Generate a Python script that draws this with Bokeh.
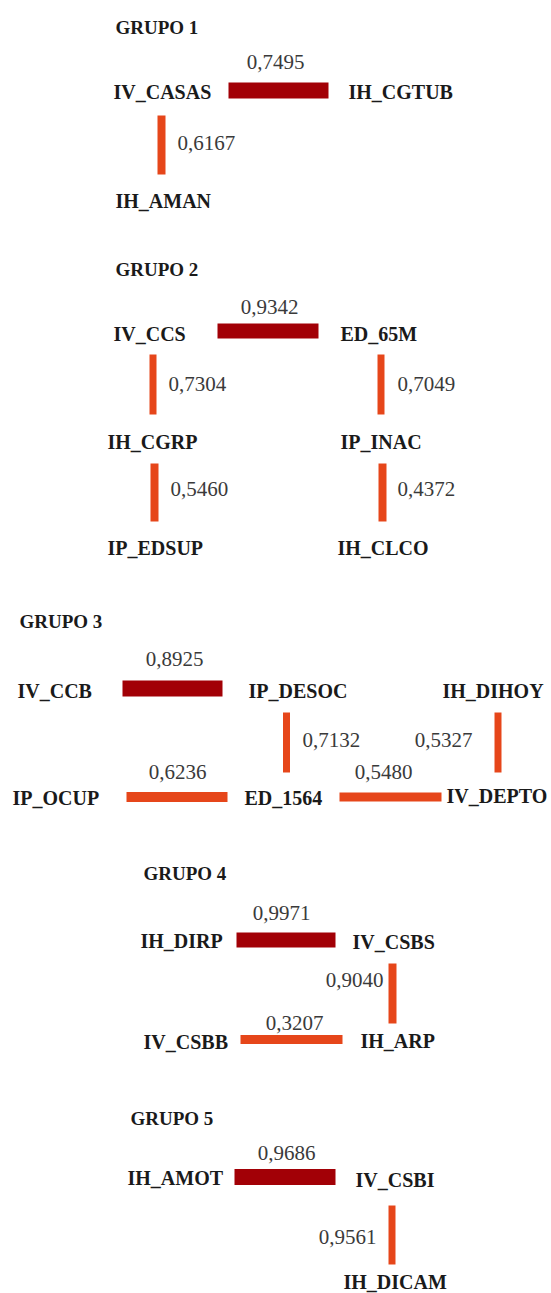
from bokeh.plotting import figure
from bokeh.models import Range1d, ColumnDataSource
from bokeh.core.properties import value
from bokeh.embed import file_html
from bokeh.resources import INLINE

# ---------------- data ----------------
groups = ["GRUPO 1", "GRUPO 2", "GRUPO 3", "GRUPO 4", "GRUPO 5"]

edge_group = [1, 1,
              2, 2, 2, 2, 2,
              3, 3, 3, 3, 3,
              4, 4, 4,
              5, 5]
edge_source = ["IV_CASAS", "IV_CASAS",
               "IV_CCS", "IV_CCS", "ED_65M", "IH_CGRP", "IP_INAC",
               "IV_CCB", "IP_DESOC", "IH_DIHOY", "IP_OCUP", "ED_1564",
               "IH_DIRP", "IV_CSBS", "IV_CSBB",
               "IH_AMOT", "IV_CSBI"]
edge_target = ["IH_CGTUB", "IH_AMAN",
               "ED_65M", "IH_CGRP", "IP_INAC", "IP_EDSUP", "IH_CLCO",
               "IP_DESOC", "ED_1564", "IV_DEPTO", "ED_1564", "IV_DEPTO",
               "IV_CSBS", "IH_ARP", "IH_ARP",
               "IV_CSBI", "IH_DICAM"]
edge_value = [0.7495, 0.6167,
              0.9342, 0.7304, 0.7049, 0.5460, 0.4372,
              0.8925, 0.7132, 0.5327, 0.6236, 0.5480,
              0.9971, 0.9040, 0.3207,
              0.9686, 0.9561]

# ---------------- layout (pixel positions of the diagram) ----------------
title_pos = {
    "GRUPO 1": (115, 27), "GRUPO 2": (115, 269), "GRUPO 3": (19, 621),
    "GRUPO 4": (143, 873), "GRUPO 5": (130, 1118),
}
node_pos = {
    "IV_CASAS": (113, 91), "IH_CGTUB": (348, 91), "IH_AMAN": (115, 200),
    "IV_CCS": (113, 333), "ED_65M": (340, 333), "IH_CGRP": (107, 441),
    "IP_INAC": (340, 441), "IP_EDSUP": (107, 547), "IH_CLCO": (337, 547),
    "IV_CCB": (17, 690), "IP_DESOC": (248, 690), "IH_DIHOY": (442, 690),
    "IP_OCUP": (12, 797), "ED_1564": (244, 797), "IV_DEPTO": (446, 795),
    "IH_DIRP": (140, 940), "IV_CSBS": (352, 941), "IV_CSBB": (143, 1041),
    "IH_ARP": (360, 1040),
    "IH_AMOT": (127, 1177), "IV_CSBI": (355, 1179), "IH_DICAM": (343, 1281),
}
# connector centre-lines: x0, x1, y0, y1, thickness
edge_x0 = [228, 161, 217, 152.5, 380.5, 154, 382, 122, 286, 497.5, 126, 339, 236, 392, 240, 234, 391.5]
edge_x1 = [328, 161, 318, 152.5, 380.5, 154, 382, 222, 286, 497.5, 227, 441, 335, 392, 342, 335, 391.5]
edge_y0 = [90, 115, 330.5, 354, 354, 463, 463, 688, 712, 712, 796.5, 796.5, 939.5, 963, 1039, 1176.5, 1205]
edge_y1 = [90, 174, 330.5, 414, 414, 521, 521, 688, 772, 772, 796.5, 796.5, 939.5, 1023, 1039, 1176.5, 1264]
edge_thk = [16, 8, 15, 7, 7, 8, 8, 16, 7, 7, 10, 9, 15, 8, 9, 16, 7]
# value label anchors
lab_x = [275, 177, 269, 168, 397, 170, 397, 174, 302, 472, 177, 383, 281, 383, 294, 286, 376]
lab_y = [61, 142, 306, 383, 383, 488, 488, 658, 739, 739, 771, 771, 912, 979, 1022, 1152, 1236]
lab_align = ["center", "left", "center", "left", "left", "left", "left", "center", "left", "right",
             "center", "center", "center", "right", "center", "center", "right"]

DARK = "#A20006"
ORANGE = "#E6461A"
SERIF = value("'Liberation Serif', 'Times New Roman', Times, serif")

# ---------------- build ----------------
W, H = 551, 1293
p = figure(width=W, height=H, x_range=Range1d(0, W), y_range=Range1d(H, 0),
           output_backend="svg", toolbar_location=None, min_border=0,
           x_axis_type=None, y_axis_type=None)
p.grid.visible = False
p.outline_line_color = None
p.background_fill_color = "white"
p.border_fill_color = "white"

# strongest link in each group is dark red
gmax = {}
for g, v in zip(edge_group, edge_value):
    gmax[g] = max(gmax.get(g, 0), v)
colors = [DARK if v == gmax[g] else ORANGE for g, v in zip(edge_group, edge_value)]

left, right, top, bottom = [], [], [], []
for x0, x1, y0, y1, t in zip(edge_x0, edge_x1, edge_y0, edge_y1, edge_thk):
    if y0 == y1:
        left.append(x0); right.append(x1); top.append(y0 - t / 2); bottom.append(y0 + t / 2)
    else:
        left.append(x0 - t / 2); right.append(x0 + t / 2); top.append(y0); bottom.append(y1)
p.quad(left=left, right=right, top=top, bottom=bottom, fill_color=colors, line_color=None)

# value labels
vtxt = [f"{v:.4f}".replace(".", ",") for v in edge_value]
src_v = ColumnDataSource(dict(x=lab_x, y=lab_y, t=vtxt, a=lab_align))
p.text(x="x", y="y", text="t", text_align="a", source=src_v, text_baseline="middle",
       text_font=SERIF, text_font_size="21px", text_color="#3a3a3a")

# node labels
names = list(dict.fromkeys(edge_source + edge_target))
src_n = ColumnDataSource(dict(x=[node_pos[n][0] for n in names], y=[node_pos[n][1] for n in names], t=names))
p.text(x="x", y="y", text="t", source=src_n, text_baseline="middle", text_align="left",
       text_font=SERIF, text_font_style="bold", text_font_size="20px",
       text_color="#1a1a1a")

# group titles
src_t = ColumnDataSource(dict(x=[title_pos[g][0] for g in groups], y=[title_pos[g][1] for g in groups], t=groups))
p.text(x="x", y="y", text="t", source=src_t, text_baseline="middle", text_align="left",
       text_font=SERIF, text_font_style="bold", text_font_size="19px",
       text_color="#1a1a1a")

open("out.html", "w").write(file_html(p, INLINE))
